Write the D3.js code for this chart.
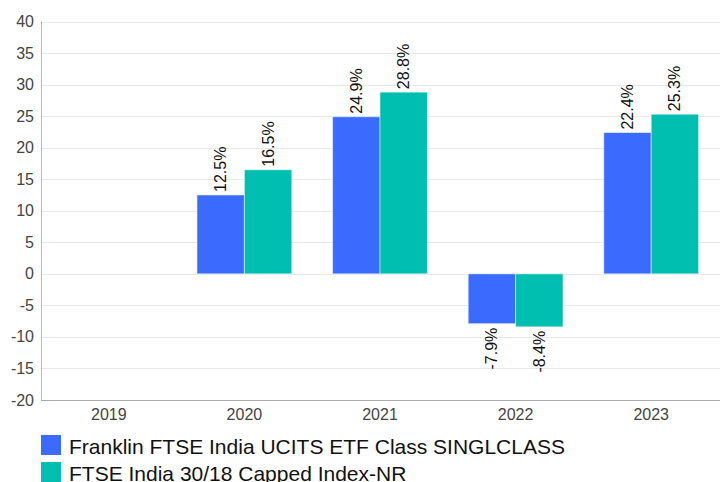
<!DOCTYPE html>
<html>
<head>
<meta charset="utf-8">
<script src="https://cdn.jsdelivr.net/npm/d3@7"></script>
<style>
  body { margin: 0; background: #fff; font-family: "Liberation Sans", Arial, sans-serif; }
</style>
</head>
<body>
<div id="chart"></div>
<script>
// 数据
const years = ['2019', '2020', '2021', '2022', '2023'];
const fundValues = [null, 12.5, 24.9, -7.9, 22.4];
const indexValues = [null, 16.5, 28.8, -8.4, 25.3];
const seriesNames = ['Franklin FTSE India UCITS ETF Class SINGLCLASS', 'FTSE India 30/18 Capped Index-NR'];
const yTicks = [-20, -15, -10, -5, 0, 5, 10, 15, 20, 25, 30, 35, 40];

const width = 720, height = 482;
const plotL = 41, plotR = 719, plotT = 21.5, plotB = 400;   // 绘图区边界
const colors = ['#3b6bfe', '#00bfb0'];

const svg = d3.select('#chart').append('svg')
  .attr('width', width)
  .attr('height', height);

const x = d3.scaleBand().domain(years).range([plotL, plotR]);
const sub = d3.scaleBand().domain([0, 1]).range([0, x.bandwidth()]).paddingOuter(0.43).paddingInner(0);
const y = d3.scaleLinear().domain([-20, 40]).range([plotB, plotT]);

// 网格线
svg.append('g')
  .selectAll('line')
  .data(yTicks)
  .enter().append('line')
  .attr('x1', plotL).attr('x2', width)
  .attr('y1', d => Math.round(y(d)) + 0.5).attr('y2', d => Math.round(y(d)) + 0.5)
  .attr('stroke', '#e8e8e8')
  .attr('stroke-width', 1);

// y轴文字
svg.append('g')
  .selectAll('text')
  .data(yTicks)
  .enter().append('text')
  .attr('x', 34)
  .attr('y', d => y(d))
  .attr('text-anchor', 'end')
  .attr('dominant-baseline', 'central')
  .style('font-size', '16px')
  .style('fill', '#444')
  .text(d => d);

// 柱子
const series = [fundValues, indexValues];
series.forEach((vals, si) => {
  const data = years.map((yr, i) => ({ year: yr, v: vals[i] })).filter(d => d.v !== null);
  svg.append('g')
    .selectAll('rect')
    .data(data)
    .enter().append('rect')
    .attr('x', d => x(d.year) + sub(si))
    .attr('y', d => y(Math.max(0, d.v)))
    .attr('width', sub.bandwidth())
    .attr('height', d => Math.abs(y(d.v) - y(0)))
    .attr('fill', colors[si])
    .attr('stroke', 'rgba(255,255,255,0.5)')
    .attr('stroke-width', 1);

  // 数值标签（竖排）
  svg.append('g')
    .selectAll('text')
    .data(data)
    .enter().append('text')
    .attr('transform', d => {
      const cx = x(d.year) + sub(si) + sub.bandwidth() / 2;
      const cy = d.v >= 0 ? y(d.v) - 3 : y(d.v) + 4;
      return `translate(${cx},${cy}) rotate(-90)`;
    })
    .attr('text-anchor', d => d.v >= 0 ? 'start' : 'end')
    .attr('dominant-baseline', 'central')
    .style('font-size', '16px')
    .style('fill', '#111')
    .text(d => d.v.toFixed(1) + '%');
});

// 坐标轴线
svg.append('line')
  .attr('x1', plotL + 0.5).attr('x2', plotL + 0.5)
  .attr('y1', plotT).attr('y2', plotB)
  .attr('stroke', '#bbb');
svg.append('line')
  .attr('x1', plotL).attr('x2', width)
  .attr('y1', plotB + 0.5).attr('y2', plotB + 0.5)
  .attr('stroke', '#aaa');

// x轴文字
svg.append('g')
  .selectAll('text')
  .data(years)
  .enter().append('text')
  .attr('x', d => x(d) + x.bandwidth() / 2)
  .attr('y', 414)
  .attr('text-anchor', 'middle')
  .attr('dominant-baseline', 'central')
  .style('font-size', '16px')
  .style('fill', '#444')
  .text(d => d);

// 图例
const legend = svg.append('g');
seriesNames.forEach((name, i) => {
  legend.append('rect')
    .attr('x', 41).attr('y', 435 + i * 27)
    .attr('width', 20).attr('height', 20)
    .attr('fill', colors[i]);
  legend.append('text')
    .attr('x', 69).attr('y', 454 + i * 27)
    .style('font-size', '21px')
    .style('fill', '#111')
    .text(name);
});
</script>
</body>
</html>
